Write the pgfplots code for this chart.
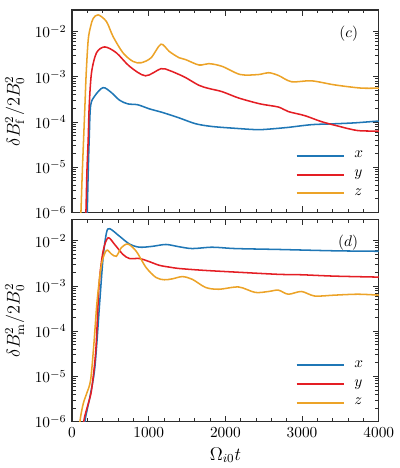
\documentclass[border=0pt]{standalone}
\usepackage{pgfplots}
\pgfplotsset{compat=1.18}

\definecolor{cx}{RGB}{31,119,182}
\definecolor{cy}{RGB}{228,30,36}
\definecolor{cz}{RGB}{236,163,40}
\definecolor{frame}{RGB}{45,45,45}

\pgfplotsset{
  legend image code/.code={\draw[#1, line width=1.25pt] (0pt,0pt) -- (31pt,0pt);},
  curve/.style={#1, line width=1pt, smooth, tension=0.5, no markers},
  panel/.style={
    scale only axis, width=200pt, height=132pt,
    xmin=0, xmax=4000,
    xtick={0,1000,2000,3000,4000}, minor x tick num=4,
    ytick={1e-6,1e-5,1e-4,1e-3,1e-2},
    tick align=inside, tick pos=both,
    major tick length=4pt, minor tick length=2.3pt,
    axis line style={frame, line width=0.8pt},
    tick style={frame, line width=0.6pt},
    scaled x ticks=false,
    /pgf/number format/1000 sep={},
    label style={font=\large},
    legend style={draw=none, fill=none, at={(rel axis cs:0.975,0.04)},
      anchor=south east, row sep=2.5pt,
      /tikz/every odd column/.append style={column sep=4pt}},
    legend cell align=left,
  },
}

\begin{document}
\begin{tikzpicture}

% ---- (c) fluctuating field
\begin{axis}[panel, ymode=log, ymin=1e-6, ymax=3e-2, at={(0,136.5pt)}, xticklabels={},
  ylabel={$\delta B_{\mathrm{f}}^2/2B_0^2$}]
\addplot[curve=cx] coordinates {
(185,2.5e-7) (198,1e-6) (211,7.94e-6) (224,4.27e-5) (242,2.29e-4)
(298,3.80e-4) (405,5.75e-4) (513,4.47e-4) (621,3.02e-4) (729,2.51e-4)
(858,2.40e-4) (1009,1.95e-4) (1181,1.62e-4) (1397,1.23e-4) (1613,9.12e-5)
(1828,7.94e-5) (2130,7.24e-5) (2432,6.76e-5) (2691,7.24e-5) (2820,7.59e-5)
(3122,8.71e-5) (3424,9.12e-5) (3683,9.55e-5) (4000,1.05e-4)
};
\addlegendentry{$x$}
\addplot[curve=cy] coordinates {
(165,2.5e-7) (181,1e-6) (194,7.94e-6) (211,4.27e-5) (224,2.29e-4)
(254,1.23e-3) (319,3.39e-3) (427,4.57e-3) (578,3.39e-3) (750,1.70e-3)
(957,1.05e-3) (1160,1.51e-3) (1268,1.38e-3) (1397,1.12e-3) (1483,9.55e-4)
(1656,6.46e-4) (1785,5.50e-4) (1957,4.68e-4) (2173,3.39e-4) (2454,2.51e-4)
(2691,2.14e-4) (2820,1.70e-4) (3036,1.38e-4) (3251,1.02e-4) (3467,8.13e-5)
(3726,6.46e-5) (4000,6.31e-5)
};
\addlegendentry{$y$}
\addplot[curve=cz] coordinates {
(100,2.5e-7) (116,1e-6) (134,7.94e-6) (151,4.27e-5) (168,2.29e-4)
(185,1.23e-3) (211,6.61e-3) (242,1.29e-2) (276,1.95e-2) (341,2.34e-2)
(449,1.66e-2) (535,7.76e-3) (664,3.39e-3) (793,2.19e-3) (901,2.04e-3)
(1031,2.63e-3) (1160,5.25e-3) (1268,3.63e-3) (1397,2.63e-3) (1480,2.40e-3)
(1656,1.82e-3) (1785,1.95e-3) (1957,1.70e-3) (2195,1.12e-3) (2432,1.12e-3)
(2561,1.23e-3) (2691,1.07e-3) (2863,7.76e-4) (3122,8.13e-4) (3424,6.61e-4)
(3768,5.62e-4) (4000,5.62e-4)
};
\addlegendentry{$z$}
\node[anchor=east] at (rel axis cs:0.95,0.885) {$(c)$};
\end{axis}

% ---- (d) mean field
\begin{axis}[panel, ymode=log, ymin=1e-6, ymax=3e-2, at={(0,0)},
  xlabel={$\Omega_{i0}t$},
  ylabel={$\delta B_{\mathrm{m}}^2/2B_0^2$}]
\addplot[curve=cx] coordinates {
(150,2.5e-7) (168,1e-6) (233,3.55e-6) (298,1.62e-5) (362,4.68e-4)
(405,4.27e-3) (449,1.51e-2) (492,1.86e-2) (621,1.26e-2) (750,8.51e-3)
(880,7.24e-3) (1052,7.59e-3) (1225,8.32e-3) (1397,7.41e-3) (1569,6.76e-3)
(1828,7.24e-3) (2130,6.76e-3) (2691,6.46e-3) (3424,6.03e-3) (4000,5.89e-3)
};
\addlegendentry{$x$}
\addplot[curve=cy] coordinates {
(130,2.5e-7) (152,1e-6) (211,2.51e-6) (254,5.01e-6) (310,3.80e-5)
(353,1.10e-3) (405,5.89e-3) (470,1.17e-2) (556,8.32e-3) (664,5.01e-3)
(750,4.07e-3) (880,4.07e-3) (1009,3.47e-3) (1138,2.88e-3) (1268,2.63e-3)
(1397,2.45e-3) (1699,2.24e-3) (2130,2.04e-3) (2691,1.82e-3) (2992,1.78e-3)
(3424,1.66e-3) (4000,1.58e-3)
};
\addlegendentry{$y$}
\addplot[curve=cz] coordinates {
(85,2.5e-7) (103,1e-6) (146,2.51e-6) (190,4.17e-6) (242,8.32e-6)
(285,5.25e-5) (327,4.68e-4) (384,3.02e-3) (449,6.17e-3) (513,5.13e-3)
(578,4.57e-3) (643,7.08e-3) (729,8.51e-3) (837,5.89e-3) (966,2.57e-3)
(1095,1.55e-3) (1203,1.38e-3) (1311,1.45e-3) (1440,1.62e-3) (1569,1.41e-3)
(1742,9.33e-4) (1915,8.51e-4) (2173,9.55e-4) (2389,7.24e-4) (2561,7.59e-4)
(2691,8.13e-4) (2820,6.61e-4) (2992,7.59e-4) (3165,6.03e-4) (3424,6.31e-4)
(3726,6.61e-4) (4000,6.31e-4)
};
\addlegendentry{$z$}
\node[anchor=east] at (rel axis cs:0.95,0.885) {$(d)$};
\end{axis}

\path (0,275pt);
\end{tikzpicture}
\end{document}
